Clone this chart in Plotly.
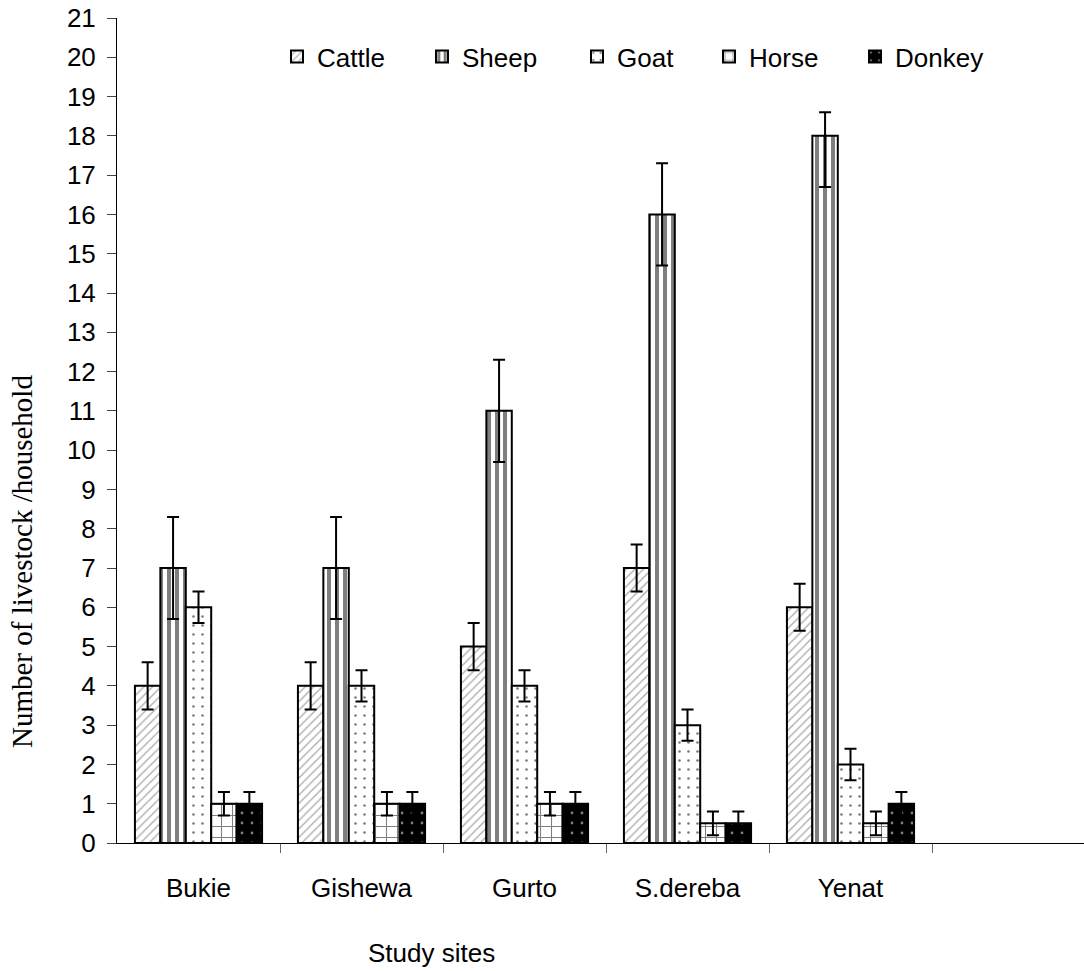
import plotly.graph_objects as go

# Study sites and livestock holdings per household (mean ± error)
sites = ["Bukie", "Gishewa", "Gurto", "S.dereba", "Yenat"]
species = ["Cattle", "Sheep", "Goat", "Horse", "Donkey"]

cattle = [4, 4, 5, 7, 6]
sheep = [7, 7, 11, 16, 18]
goat = [6, 4, 4, 3, 2]
horse = [1, 1, 1, 0.5, 0.5]
donkey = [1, 1, 1, 0.5, 1]

cattle_err = [0.6, 0.6, 0.6, 0.6, 0.6]
sheep_err_plus = [1.3, 1.3, 1.3, 1.3, 0.6]
sheep_err_minus = [1.3, 1.3, 1.3, 1.3, 1.3]
goat_err = [0.4, 0.4, 0.4, 0.4, 0.4]
horse_err = [0.3, 0.3, 0.3, 0.3, 0.3]
donkey_err = [0.3, 0.3, 0.3, 0.3, 0.3]

y_ticks = list(range(0, 22))

SANS = "Liberation Sans, Arial, sans-serif"
SERIF = "Liberation Serif, Times New Roman, serif"
FS = 26

x_pos = list(range(len(sites)))

styles = {
    "Cattle": dict(color="white", pattern=dict(shape="/", fgcolor="#555555", bgcolor="white", size=6, solidity=0.22)),
    "Sheep": dict(color="white", pattern=dict(shape="|", fgcolor="black", bgcolor="white", size=8, solidity=0.5)),
    "Goat": dict(color="white", pattern=dict(shape=".", fgcolor="black", bgcolor="white", size=9, solidity=0.07)),
    "Horse": dict(color="white", pattern=dict(shape="+", fgcolor="black", bgcolor="white", size=11, solidity=0.18)),
    "Donkey": dict(color="black", pattern=dict(shape=".", fgcolor="white", bgcolor="black", size=10, solidity=0.06)),
}

series = {
    "Cattle": (cattle, cattle_err, cattle_err),
    "Sheep": (sheep, sheep_err_plus, sheep_err_minus),
    "Goat": (goat, goat_err, goat_err),
    "Horse": (horse, horse_err, horse_err),
    "Donkey": (donkey, donkey_err, donkey_err),
}

# left edge (px) of each legend entry
legend_px = [277, 422, 577, 709, 855]
legend_ids = ["legend", "legend2", "legend3", "legend4", "legend5"]

PLOT_L, PLOT_R, PLOT_T, PLOT_B = 117, 1084, 18, 843
span = PLOT_R - PLOT_L
height = PLOT_B - PLOT_T


def px_to_paper(px):
    return (px - PLOT_L) / span


def py_to_paper(py):
    return (PLOT_B - py) / height


fig = go.Figure()
for name, leg in zip(species, legend_ids):
    vals, ep, em = series[name]
    st = styles[name]
    fig.add_trace(go.Bar(
        x=x_pos, y=vals, name=name, legend=leg,
        marker=dict(color=st["color"], pattern=st["pattern"],
                    line=dict(color="black", width=2)),
        error_y=dict(type="data", array=ep, arrayminus=em, symmetric=False,
                     color="black", thickness=2, width=6),
    ))

legend_layout = {}
for leg, px in zip(legend_ids, legend_px):
    legend_layout[leg] = dict(
        orientation="h", x=px_to_paper(px), y=py_to_paper(33),
        xanchor="left", yanchor="top",
        font=dict(family=SANS, size=FS), bgcolor="rgba(0,0,0,0)",
        itemwidth=30, tracegroupgap=0,
    )

fig.update_layout(
    width=1084, height=971,
    margin=dict(l=PLOT_L, r=0, t=PLOT_T, b=971 - PLOT_B),
    paper_bgcolor="white", plot_bgcolor="white",
    barmode="group", bargap=0.22, bargroupgap=0,
    font=dict(family=SANS, size=FS, color="black"),
    showlegend=True,
    xaxis=dict(
        range=[-0.5, -0.5 + span / 163.0],
        tickvals=x_pos, ticktext=sites, ticks="",
        tickfont=dict(family=SANS, size=FS),
        ticklabelstandoff=22,
        showline=True, linecolor="black", linewidth=1,
        showgrid=False, zeroline=False,
        minor=dict(tickvals=[i + 0.5 for i in range(len(sites))], ticks="outside",
                   ticklen=9, tickcolor="#666666", tickwidth=1, showgrid=False),
    ),
    yaxis=dict(
        range=[0, 21], tickvals=y_ticks, ticks="outside", ticklen=9,
        tickcolor="#444444", tickwidth=1,
        tickfont=dict(family=SANS, size=FS),
        ticklabelstandoff=6,
        showline=True, linecolor="black", linewidth=1,
        showgrid=False, zeroline=False,
    ),
    **legend_layout,
)

fig.add_annotation(
    text="Number of livestock /household", textangle=-90,
    xref="paper", yref="paper", x=px_to_paper(22), y=py_to_paper(562),
    xanchor="center", yanchor="middle", showarrow=False,
    font=dict(family=SERIF, size=29, color="black"),
)

fig.add_annotation(
    text="Study sites",
    xref="paper", yref="paper", x=px_to_paper(431), y=py_to_paper(953),
    xanchor="center", yanchor="middle", showarrow=False,
    font=dict(family=SANS, size=FS, color="black"),
)

fig.write_html("out.html")
